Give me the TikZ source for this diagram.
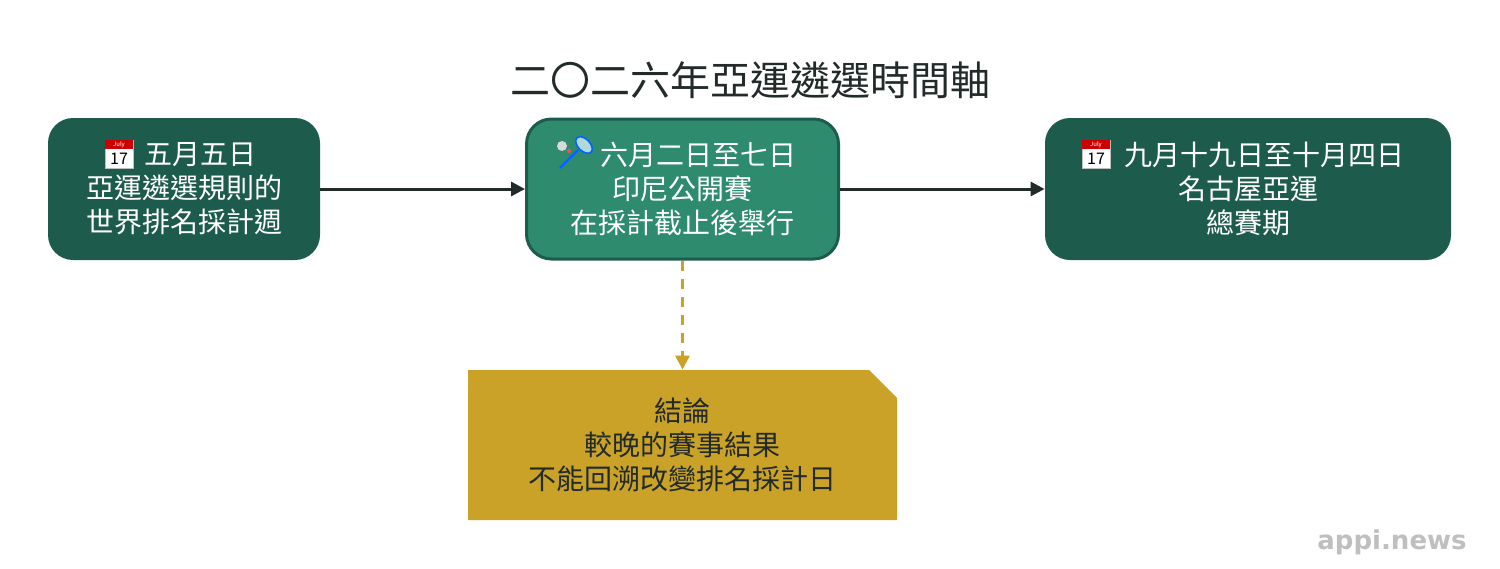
\documentclass[tikz,border=0pt]{standalone}
\usepackage{fontspec}
\setmainfont{Noto Sans CJK TC}
\newfontfamily\latinbold{DejaVu Sans}
\usetikzlibrary{arrows.meta,shapes.misc}
\definecolor{dk}{HTML}{1D5C4D}
\definecolor{md}{HTML}{2E8B6E}
\definecolor{gd}{HTML}{C9A227}
\definecolor{tx}{HTML}{222B2A}
\tikzset{
 x=0.5pt,y=-0.5pt,
 box/.style={rounded corners=12.5pt,text=white,align=center,font=\fontsize{14}{17}\selectfont},
 con/.style={draw=tx,line width=1.5pt,-{Triangle[length=7pt,width=7pt]}},
}
\newcommand{\calicon}[2]{%
 \fill[white,draw=gray!50,line width=0.3pt] (#1,#2) rectangle ++(28,28);
 \fill[red!80!black] (#1,#2) rectangle ++(28,9);
 \node[font=\fontsize{3}{3}\selectfont,text=white,inner sep=0] at (#1+14,#2+4.5) {July};
 \node[font=\fontsize{8}{8}\selectfont,text=black,inner sep=0] at (#1+14,#2+19) {17};
}
\begin{document}
\begin{tikzpicture}
\useasboundingbox (0,0) rectangle (1500,568);
\node[font=\fontsize{20}{24}\selectfont,text=tx] (title) at (750,80) {二〇二六年亞運遴選時間軸};
\node[box,fill=dk,minimum width=136pt,minimum height=71pt] (a) at (184,189) {\phantom{XX}五月五日\\亞運遴選規則的\\世界排名採計週};
\node[box,fill=md,draw=dk,line width=1.5pt,minimum width=156pt,minimum height=70pt] (b) at (682.5,189) {\phantom{XX}六月二日至七日\\印尼公開賽\\在採計截止後舉行};
\node[box,fill=dk,minimum width=203pt,minimum height=71pt] (c) at (1248,189) {\phantom{XX}九月十九日至十月四日\\名古屋亞運\\總賽期};
\node[fill=gd,text=tx,align=center,font=\fontsize{14}{17}\selectfont,chamfered rectangle,chamfered rectangle corners=north east,chamfered rectangle xsep=7pt,chamfered rectangle ysep=7pt,minimum width=214.5pt,minimum height=75pt,inner sep=0pt] (d) at (682.5,445) {結論\\較晚的賽事結果\\不能回溯改變排名採計日};
\calicon{105}{140}
\calicon{1082}{140}
% badminton racket and shuttle
\draw[line width=1.2pt,color=blue!60!cyan] (560,168) -- (578,150);
\draw[fill=teal!30,draw=blue!60!cyan,line width=0.8pt,rotate around={45:(584,145)}] (584,145) ellipse (6 and 10);
\fill[gray!30] (562,146) circle (5);
\fill[red!70] (569,151) circle (2);
\draw[con] (a.east) -- (b.west);
\draw[con] (b.east) -- (c.west);
\draw[draw=gd,line width=1.5pt,dash pattern=on 5pt off 4pt,-{Triangle[length=7pt,width=7pt]}] (b.south) -- (d.north);
\node[font=\latinbold\bfseries\fontsize{13}{13}\selectfont,text=gray!50] (logo) at (1392,542) {appi.news};
\end{tikzpicture}
\end{document}
